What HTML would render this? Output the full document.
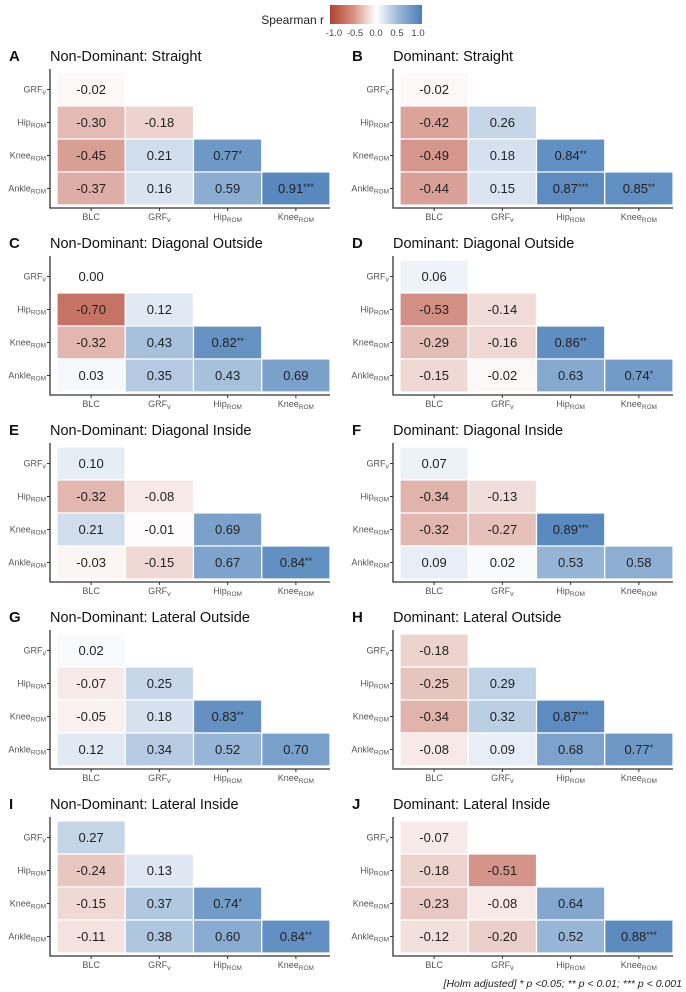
<!DOCTYPE html>
<html><head><meta charset="utf-8">
<style>
html,body{margin:0;padding:0;background:#fff;}
svg{display:block;font-family:"Liberation Sans",Arial,sans-serif;}
</style></head>
<body>
<svg id="chart" width="686" height="992" viewBox="0 0 686 992">
<defs>
<linearGradient id="lg" x1="0" x2="1" y1="0" y2="0">
<stop offset="0" stop-color="#B2412E"/><stop offset="0.25" stop-color="#D8907F"/><stop offset="0.5" stop-color="#FFFFFF"/><stop offset="0.75" stop-color="#98B6D8"/><stop offset="1" stop-color="#4A7EB8"/>
</linearGradient>
</defs>
<g>
<text x="324" y="24" font-size="12" text-anchor="end" fill="#222">Spearman r</text>
<rect x="330" y="5" width="92" height="19" fill="url(#lg)"/>
<g id="legticks" font-size="9.5" fill="#444" text-anchor="middle"></g>
</g>
<g id="panels"></g>
<text x="682" y="987" font-size="10.5" font-style="italic" text-anchor="end" fill="#222">[Holm adjusted] * p &lt;0.05; ** p &lt; 0.01; *** p &lt; 0.001</text>
</svg>
<script>
const legendTicks = [-1.0, -0.5, 0.0, 0.5, 1.0];
const panelLetters = ["A","B","C","D","E","F","G","H","I","J"];
const panelTitles = ["Non-Dominant: Straight","Dominant: Straight","Non-Dominant: Diagonal Outside","Dominant: Diagonal Outside","Non-Dominant: Diagonal Inside","Dominant: Diagonal Inside","Non-Dominant: Lateral Outside","Dominant: Lateral Outside","Non-Dominant: Lateral Inside","Dominant: Lateral Inside"];
const xCategories = ["BLC","GRFv","HipROM","KneeROM"];
const yCategories = ["GRFv","HipROM","KneeROM","AnkleROM"];
// values ordered row by row (lower triangle)
const valuesA = [-0.02, -0.30,-0.18, -0.45,0.21,0.77, -0.37,0.16,0.59,0.91];
const valuesB = [-0.02, -0.42,0.26, -0.49,0.18,0.84, -0.44,0.15,0.87,0.85];
const valuesC = [0.00, -0.70,0.12, -0.32,0.43,0.82, 0.03,0.35,0.43,0.69];
const valuesD = [0.06, -0.53,-0.14, -0.29,-0.16,0.86, -0.15,-0.02,0.63,0.74];
const valuesE = [0.10, -0.32,-0.08, 0.21,-0.01,0.69, -0.03,-0.15,0.67,0.84];
const valuesF = [0.07, -0.34,-0.13, -0.32,-0.27,0.89, 0.09,0.02,0.53,0.58];
const valuesG = [0.02, -0.07,0.25, -0.05,0.18,0.83, 0.12,0.34,0.52,0.70];
const valuesH = [-0.18, -0.25,0.29, -0.34,0.32,0.87, -0.08,0.09,0.68,0.77];
const valuesI = [0.27, -0.24,0.13, -0.15,0.37,0.74, -0.11,0.38,0.60,0.84];
const valuesJ = [-0.07, -0.18,-0.51, -0.23,-0.08,0.64, -0.12,-0.20,0.52,0.88];
const starsA = ["","","","","","*","","","","***"];
const starsB = ["","","","","","**","","","***","**"];
const starsC = ["","","","","","**","","","",""];
const starsD = ["","","","","","**","","","","*"];
const starsE = ["","","","","","","","","","**"];
const starsF = ["","","","","","***","","","",""];
const starsG = ["","","","","","**","","","",""];
const starsH = ["","","","","","***","","","","*"];
const starsI = ["","","","","","*","","","","**"];
const starsJ = ["","","","","","","","","","***"];
const allValues = [valuesA,valuesB,valuesC,valuesD,valuesE,valuesF,valuesG,valuesH,valuesI,valuesJ];
const allStars = [starsA,starsB,starsC,starsD,starsE,starsF,starsG,starsH,starsI,starsJ];

const NS = "http://www.w3.org/2000/svg";
function mk(tag, attrs, parent){const e=document.createElementNS(NS,tag);for(const k in attrs)e.setAttribute(k,attrs[k]);parent.appendChild(e);return e;}
function color(v){
  const lo=[178,65,46], hi=[74,126,184];
  const t=Math.pow(Math.min(1,Math.abs(v)),0.85); const end=v<0?lo:hi;
  const c=end.map(x=>Math.round(255+(x-255)*t));
  return "rgb("+c.join(",")+")";
}
function labelWithSub(parent, name, x, y, anchor){
  const t=mk("text",{x:x,y:y,"font-size":"9","fill":"#555","text-anchor":anchor},parent);
  const base=name.replace(/ROM$|v$/,""); const sub=name.slice(base.length);
  t.appendChild(document.createTextNode(base));
  if(sub){const s=mk("tspan",{"font-size":sub==="v"?"7":"6.5","dy":"2"},t);s.textContent=sub;}
  return t;
}
const lt=document.getElementById("legticks");
const legX=v=>334+(v+1)/2*84;
legendTicks.forEach(v=>{
  const t=mk("text",{x:legX(v),y:36},lt);
  
  
  t.textContent=v.toFixed(1);
});

const root=document.getElementById("panels");
for(let p=0;p<10;p++){
  const ox=(p%2)*343, oy=Math.floor(p/2)*187;
  const g=mk("g",{transform:"translate("+ox+","+oy+")"},root);
  
  
  const L=mk("text",{x:9,y:61,"font-size":"15","font-weight":"bold",fill:"#111"},g);
  
  
  L.textContent=panelLetters[p];
  const T=mk("text",{x:50,y:61,"font-size":"14.5",fill:"#111"},g);
  
  
  T.textContent=panelTitles[p];
  const x0=57, cw=68.25, y0=73, ch=33;
  const xs=i=>x0+i*cw, ys=j=>y0+j*ch;
  const vals=allValues[p], st=allStars[p];
  let k=0;
  for(let r=0;r<4;r++){
    for(let c=0;c<=r;c++){
      const v=vals[k], s=st[k]; k++;
      const rc=mk("rect",{x:xs(c),y:ys(r),width:cw,height:ch,fill:color(v),stroke:"#fff","stroke-width":"1.2"},g);
      
      
      const tx=mk("text",{x:xs(c)+cw/2,y:ys(r)+ch/2+4.5,"font-size":"13","text-anchor":"middle",fill:"#222"},g);
      
      
      tx.textContent=v.toFixed(2);
      if(s){const sp=mk("tspan",{"font-size":"9","dy":"-3"},tx);sp.textContent=s;}
    }
  }
  const ax=mk("path",{d:"M50,69 V"+(y0+4*ch+3)+" H330",stroke:"#333","stroke-width":"1.3",fill:"none"},g);
  
  
  yCategories.forEach((n,j)=>{
    const cy=ys(j)+ch/2;
    mk("line",{x1:47,x2:50,y1:cy,y2:cy,stroke:"#333","stroke-width":"1"},g);
    const t=labelWithSub(g,n,46,cy+3,"end");
    
    
  });
  xCategories.forEach((n,i)=>{
    const cx=xs(i)+cw/2, by=y0+4*ch+3;
    mk("line",{x1:cx,x2:cx,y1:by,y2:by+3,stroke:"#333","stroke-width":"1"},g);
    const t=labelWithSub(g,n,cx,by+12,"middle");
    
    
  });
}
</script>
</body></html>
